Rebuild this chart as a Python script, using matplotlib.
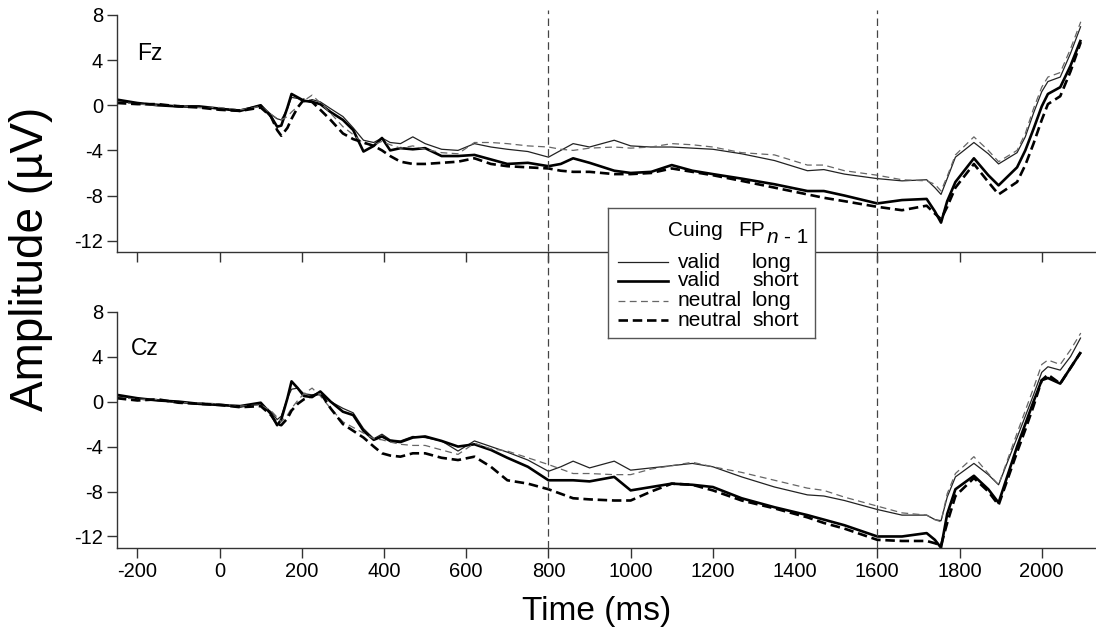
import matplotlib
matplotlib.use('Agg')
import matplotlib.pyplot as plt
import matplotlib.transforms as mtransforms
from matplotlib.lines import Line2D

plt.rcParams['font.family'] = ['Liberation Sans', 'DejaVu Sans']
plt.rcParams['axes.unicode_minus'] = False

# sample times (ms)
time_ms = [-250, -200, -150, -100, -50, 0, 50, 100, 125, 140,
           150, 165, 175, 190, 205, 225, 245, 270, 300, 325,
           350, 375, 395, 415, 440, 470, 500, 540, 580, 620,
           660, 700, 750, 800, 830, 860, 900, 960, 1000, 1050,
           1100, 1150, 1200, 1270, 1350, 1430, 1470, 1520, 1600, 1660,
           1720, 1740, 1755, 1770, 1790, 1835, 1870, 1895, 1940, 1960,
           1980, 2000, 2015, 2045, 2070, 2095]

# Fz amplitudes (uV)
fz_valid_long = [0.4, 0.1, 0.1, -0.1, -0.2, -0.3, -0.4, 0.0, -0.8, -1.2,
                 -1.3, -0.3, 0.7, 0.6, 0.3, 0.5, 0.3, -0.3, -1.0, -2.0,
                 -3.1, -3.3, -2.9, -3.3, -3.4, -2.8, -3.4, -3.9, -4.0, -3.4,
                 -3.7, -3.9, -4.1, -4.6, -4.0, -3.4, -3.7, -3.1, -3.6, -3.7,
                 -3.7, -3.8, -3.9, -4.3, -4.9, -5.8, -5.7, -6.1, -6.5, -6.7,
                 -6.6, -7.3, -7.9, -6.5, -4.6, -3.3, -4.3, -5.2, -4.2, -2.8,
                 -0.7, 1.2, 2.1, 2.5, 4.6, 7.0]
fz_valid_short = [0.5, 0.2, 0.0, -0.1, -0.1, -0.3, -0.5, 0.0, -1.0, -1.9,
                  -1.8, -0.2, 1.0, 0.7, 0.4, 0.3, 0.1, -0.6, -1.3, -2.2,
                  -4.1, -3.6, -2.9, -4.0, -3.8, -3.9, -3.8, -4.5, -4.5, -4.4,
                  -4.8, -5.2, -5.1, -5.4, -5.2, -4.7, -5.1, -5.8, -6.0, -5.9,
                  -5.3, -5.8, -6.1, -6.5, -7.0, -7.6, -7.6, -8.0, -8.7, -8.4,
                  -8.3, -9.4, -10.4, -8.5, -6.8, -4.7, -6.2, -7.1, -5.5, -4.0,
                  -2.1, -0.1, 1.0, 1.6, 3.5, 5.8]
fz_neutral_long = [0.3, 0.1, 0.0, 0.0, -0.2, -0.2, -0.4, -0.1, -0.8, -1.2,
                   -1.3, -1.0, -0.6, -0.1, 0.4, 0.9, 0.2, -0.7, -1.9, -2.6,
                   -3.4, -3.5, -3.2, -3.5, -3.8, -3.6, -3.9, -4.2, -4.3, -3.3,
                   -3.3, -3.4, -3.6, -3.7, -3.9, -4.0, -3.8, -3.7, -3.8, -3.7,
                   -3.4, -3.5, -3.7, -4.2, -4.4, -5.3, -5.3, -5.8, -6.2, -6.6,
                   -6.7, -7.0, -7.6, -6.3, -4.4, -2.8, -4.0, -5.0, -4.0, -2.5,
                   -0.3, 1.6, 2.5, 2.9, 5.0, 7.4]
fz_neutral_short = [0.2, 0.1, 0.1, -0.1, -0.2, -0.4, -0.5, -0.2, -1.0, -2.2,
                    -2.7, -2.0, -1.2, -0.2, 0.5, 0.3, -0.4, -1.3, -2.5, -3.0,
                    -3.3, -3.6, -4.0, -4.5, -5.0, -5.2, -5.2, -5.1, -5.0, -4.7,
                    -5.2, -5.4, -5.5, -5.6, -5.8, -5.9, -5.9, -6.1, -6.1, -6.0,
                    -5.6, -5.9, -6.2, -6.7, -7.3, -7.9, -8.2, -8.5, -9.0, -9.3,
                    -8.9, -9.6, -10.1, -9.0, -7.3, -5.2, -6.8, -7.9, -6.8, -5.3,
                    -3.4, -1.3, 0.1, 0.8, 3.0, 5.6]

# Cz amplitudes (uV)
cz_valid_long = [0.5, 0.3, 0.1, -0.1, -0.1, -0.3, -0.5, -0.2, -0.9, -1.6,
                 -1.3, 0.3, 1.1, 1.2, 0.7, 0.6, 0.6, 0.0, -0.6, -1.0,
                 -2.4, -3.3, -2.9, -3.4, -3.5, -3.1, -3.2, -3.5, -4.4, -3.5,
                 -4.0, -4.5, -5.2, -6.2, -5.8, -5.3, -5.9, -5.3, -6.1, -5.9,
                 -5.7, -5.5, -5.8, -6.7, -7.6, -8.3, -8.4, -8.8, -9.6, -10.1,
                 -10.1, -10.5, -10.6, -8.5, -6.7, -5.5, -6.5, -7.4, -3.2, -1.3,
                 0.6, 2.6, 3.1, 2.8, 4.0, 5.7]
cz_valid_short = [0.6, 0.3, 0.1, 0.0, -0.2, -0.3, -0.4, -0.1, -1.1, -2.1,
                  -1.6, 0.3, 1.8, 1.2, 0.5, 0.4, 0.9, 0.0, -0.9, -1.2,
                  -2.6, -3.4, -3.1, -3.5, -3.6, -3.2, -3.1, -3.5, -4.0, -3.8,
                  -4.3, -5.0, -5.8, -7.0, -7.0, -7.0, -7.1, -6.7, -7.9, -7.6,
                  -7.3, -7.4, -7.6, -8.6, -9.4, -10.1, -10.5, -11.0, -12.0, -12.0,
                  -11.7, -12.3, -13.0, -10.0, -7.8, -6.6, -7.8, -9.0, -4.0, -2.0,
                  0.0, 1.9, 2.1, 1.6, 3.0, 4.4]
cz_neutral_long = [0.4, 0.2, 0.2, -0.1, -0.1, -0.2, -0.4, -0.3, -0.8, -1.4,
                   -1.8, -1.2, -0.6, 0.1, 0.7, 1.2, 0.5, -0.6, -1.8, -2.3,
                   -2.8, -3.3, -3.4, -3.6, -3.8, -3.9, -3.9, -4.3, -4.7, -3.7,
                   -4.2, -4.4, -5.0, -5.6, -6.0, -6.4, -6.4, -6.5, -6.5, -6.0,
                   -5.7, -5.4, -5.8, -6.3, -7.0, -7.7, -7.9, -8.5, -9.3, -9.9,
                   -10.1, -10.5, -10.7, -8.2, -6.4, -4.9, -6.4, -7.4, -2.8, -0.8,
                   1.2, 3.3, 3.7, 3.3, 4.6, 6.1]
cz_neutral_short = [0.3, 0.1, 0.2, -0.1, -0.2, -0.3, -0.5, -0.4, -1.2, -2.0,
                    -2.1, -1.5, -0.8, -0.2, 0.2, 0.5, 0.8, -0.6, -2.0, -2.6,
                    -3.2, -4.0, -4.6, -4.8, -4.9, -4.6, -4.6, -5.0, -5.2, -4.9,
                    -5.8, -7.0, -7.3, -7.8, -8.2, -8.6, -8.7, -8.8, -8.8, -8.0,
                    -7.3, -7.4, -7.9, -8.8, -9.5, -10.3, -10.8, -11.3, -12.3, -12.4,
                    -12.4, -12.6, -12.8, -10.8, -8.4, -6.8, -8.0, -9.2, -4.5, -2.5,
                    -0.4, 1.9, 2.4, 1.6, 3.0, 4.4]

electrodes = ['Fz', 'Cz']
cue_labels = ['valid', 'valid', 'neutral', 'neutral']
fp_labels = ['long', 'short', 'long', 'short']
x_ticks = list(range(-200, 2001, 200))
y_ticks = [-12, -8, -4, 0, 4, 8]
marker_times = [800, 1600]

panels = [
    [fz_valid_long, fz_valid_short, fz_neutral_long, fz_neutral_short],
    [cz_valid_long, cz_valid_short, cz_neutral_long, cz_neutral_short],
]

styles = [
    dict(color='#222222', lw=0.9),
    dict(color='#000000', lw=1.9),
    dict(color='#666666', lw=0.9, dashes=(5.5, 3.5)),
    dict(color='#000000', lw=1.9, dashes=(3.6, 1.8)),
]

fig = plt.figure(figsize=(10.96, 6.4), dpi=100)
ax_top = fig.add_axes([0.1066, 0.6063, 0.8934, 0.3703])
ax_bot = fig.add_axes([0.1066, 0.1442, 0.8934, 0.3688])
axes = [ax_top, ax_bot]

label_pos = [(0.021, 0.81), (0.014, 0.816)]
for ax, series, name, lpos in zip(axes, panels, electrodes, label_pos):
    for vals, st in zip(series, styles):
        ax.plot(time_ms, vals, solid_capstyle='butt', **st)
    ax.set_xlim(-250, 2132)
    ax.set_ylim(-13, 8)
    ax.set_xticks(x_ticks)
    ax.set_yticks(y_ticks)
    for s in ['top', 'right']:
        ax.spines[s].set_visible(False)
    for s in ['left', 'bottom']:
        ax.spines[s].set_color('#333333')
        ax.spines[s].set_linewidth(1.0)
    ax.tick_params(direction='out', length=7, width=1.0, color='#333333',
                   labelsize=14.5, pad=3)
    ax.text(lpos[0], lpos[1], name, transform=ax.transAxes, fontsize=16.5,
            ha='left', va='baseline')

ax_top.tick_params(labelbottom=False)

# vertical markers spanning both panels
trans = mtransforms.blended_transform_factory(ax_bot.transData, fig.transFigure)
for t in marker_times:
    fig.add_artist(Line2D([t, t], [0.1442, 0.984], transform=trans,
                          color='#444444', lw=0.9, dashes=(6, 3.5)))

fig.text(0.028, 0.595, 'Amplitude (µV)', rotation=90, ha='center', va='center',
         fontsize=33)
fig.text(0.544, 0.044, 'Time (ms)', ha='center', va='center', fontsize=24)

# legend box
lax = fig.add_axes([608 / 1096, 1 - 338 / 640, 207 / 1096, 130 / 640], zorder=5)
lax.set_xlim(0, 207)
lax.set_ylim(130, 0)
lax.set_xticks([])
lax.set_yticks([])
lax.set_facecolor('white')
for s in lax.spines.values():
    s.set_color('#555555')
    s.set_linewidth(1.0)

lax.text(60, 28, 'Cuing', fontsize=15, va='baseline')
lax.text(130, 28, 'FP', fontsize=15, va='baseline')
lax.text(159, 35, 'n', fontsize=15, style='italic', va='baseline')
lax.text(176, 35, '- 1', fontsize=15, va='baseline')
row_y = [54, 73, 93, 112]
for y, st, cue, fp in zip(row_y, styles, cue_labels, fp_labels):
    lax.add_line(Line2D([10, 60], [y, y], **st))
    lax.text(70, y, cue, fontsize=15, va='center')
    lax.text(144, y, fp, fontsize=15, va='center')

fig.savefig('out.png', dpi=100)
